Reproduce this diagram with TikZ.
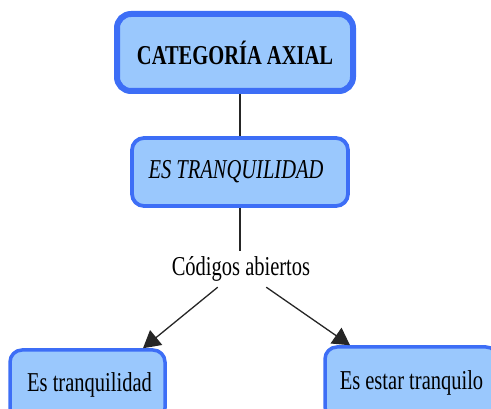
\documentclass[tikz,border=0pt]{standalone}
\usepackage{fontspec}
\setmainfont{Liberation Serif}
\usepackage{graphicx}
\usetikzlibrary{arrows.meta,calc}
\definecolor{boxfill}{HTML}{9AC8FD}
\definecolor{boxline}{HTML}{3D6EF6}
\newcommand{\vst}[1]{\scalebox{1}[1.33]{#1}}
\tikzset{
  concept/.style={draw=boxline, fill=boxfill, rounded corners=12pt, line width=3.8pt,
    inner sep=0pt, font=\fontsize{20.5}{24}\selectfont},
  linker/.style={inner sep=0pt, minimum width=150pt, minimum height=36pt, font=\fontsize{20.5}{24}\selectfont},
  conn/.style={line width=1.3pt, draw=black!85},
  tip/.style={conn, -{Triangle[length=17pt,width=19pt]}}
}
\begin{document}
\begin{tikzpicture}[x=1pt,y=-1pt]
\useasboundingbox (0,0) rectangle (491,409);
\clip (0,0) rectangle (491,409);
\node[concept, line width=6pt, rounded corners=14pt, minimum width=236pt, minimum height=77pt] (top) at (235,52.5) {\vst{\bfseries CATEGORÍA AXIAL}};
\node[concept, minimum width=216pt, minimum height=68pt] (es) at (240,172) {\hspace*{-8pt}\vst{\itshape ES TRANQUILIDAD}};
\node[linker] (lbl) at (240,269) {\hspace*{2pt}\vst{Códigos abiertos}};
\node[concept, line width=3.5pt, minimum width=155pt, minimum height=70pt] (tl) at (87.5,385) {\hspace*{4pt}\raisebox{5pt}{\vst{Es tranquilidad}}};
\node[concept, line width=3.5pt, minimum width=173pt, minimum height=72pt] (tr) at (411.5,383) {\raisebox{5pt}{\vst{Es estar tranquilo}}};
\draw[conn] (es.north |- top.south) -- (es.north);
\draw[conn] (es.south) -- (lbl.north);
\coordinate (tlend) at ($(tl.north)+(55.5,0)$);
\coordinate (trend) at ($(tr.north)+(-61.5,0)$);
\draw[tip] (lbl) -- (tlend);
\draw[tip] (lbl) -- (trend);
\end{tikzpicture}
\end{document}
